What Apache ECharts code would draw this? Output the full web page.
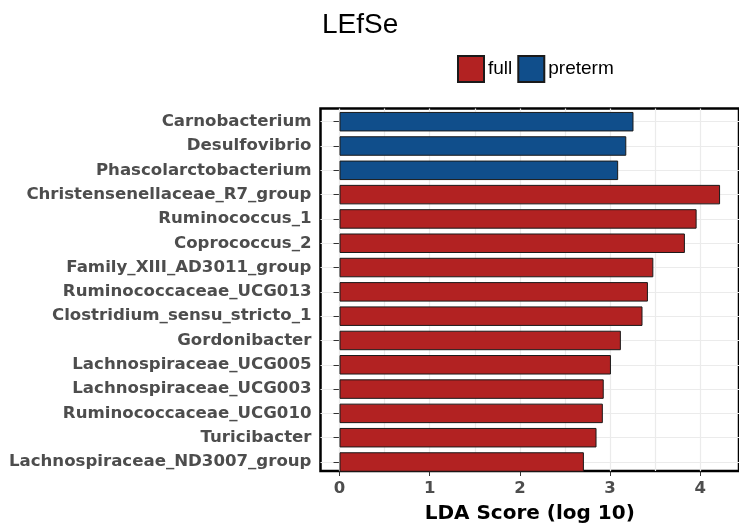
<!DOCTYPE html>
<html><head><meta charset="utf-8">
<script src="https://cdn.jsdelivr.net/npm/echarts@6/dist/echarts.min.js"></script>
<style>html,body{margin:0;padding:0;background:#fff}#c{width:739px;height:529px}</style>
</head><body><div id="c"></div>
<script>
const categories = ["Carnobacterium","Desulfovibrio","Phascolarctobacterium","Christensenellaceae_R7_group","Ruminococcus_1","Coprococcus_2","Family_XIII_AD3011_group","Ruminococcaceae_UCG013","Clostridium_sensu_stricto_1","Gordonibacter","Lachnospiraceae_UCG005","Lachnospiraceae_UCG003","Ruminococcaceae_UCG010","Turicibacter","Lachnospiraceae_ND3007_group"];
const groups = ["preterm","preterm","preterm","full","full","full","full","full","full","full","full","full","full","full","full"];
const ldaScores = [3.26,3.18,3.09,4.22,3.96,3.83,3.48,3.42,3.36,3.12,3.01,2.93,2.92,2.85,2.71];
const xTicks = [0,1,2,3,4];
const gridValues = [0,0.5,1,1.5,2,2.5,3,3.5,4];
const seriesNames = ["full","preterm"];
const colors = {full:"#B22222", preterm:"#104E8B"};

const FONT = "DejaVu Sans";
const FONT2 = "Liberation Sans";
const chart = echarts.init(document.getElementById('c'));
const xMin = -0.211, xMax = 4.43;
const panel = {left:320.5, right:-6, top:108.5, bottom:55.7};
const bandTop = 121.7, bandBottom = 529-462;

function seriesData(name){ return ldaScores.map((v,i)=> groups[i]===name ? v : null); }

chart.setOption({
  animation:false,
  title:{text:"LEfSe", left:317, top:6, textStyle:{fontFamily:FONT2, fontWeight:"normal", fontSize:28, color:"#000"}},
  legend:{data:seriesNames, left:457, top:55, padding:0, icon:"rect", itemWidth:26, itemHeight:26, itemGap:5,
    textStyle:{fontFamily:FONT2, fontSize:19, color:"#000", padding:[0,0,0,-1]}},
  grid:[
    {left:panel.left, right:panel.right, top:bandTop, bottom:bandBottom, containLabel:false},
    {left:panel.left, right:panel.right, top:panel.top, bottom:panel.bottom, show:true, borderColor:"#000", borderWidth:2.5, backgroundColor:"transparent"}
  ],
  xAxis:[
    {gridIndex:0, type:"value", min:xMin, max:xMax, show:false},
    {gridIndex:1, type:"value", min:xMin, max:xMax,
      axisLine:{show:false},
      axisTick:{show:true, length:5, lineStyle:{color:"#333"}, customValues:xTicks},
      axisLabel:{show:true, customValues:xTicks, formatter:v=>String(v), fontFamily:FONT, fontWeight:"bold", fontSize:16.5, color:"#4D4D4D", margin:9, showMinLabel:true, showMaxLabel:true},
      splitLine:{show:false},
      name:"LDA Score (log 10)", nameLocation:"middle", nameGap:33,
      nameTextStyle:{fontFamily:FONT, fontWeight:"bold", fontSize:20, color:"#000"}
    },
  ],
  yAxis:[
    {gridIndex:0, type:"category", data:categories, inverse:true, boundaryGap:false,
      axisLine:{show:false},
      axisTick:{show:true, length:6, lineStyle:{color:"#333"}},
      axisLabel:{fontFamily:FONT, fontWeight:"bold", fontSize:16.6, color:"#4D4D4D", margin:9},
      splitLine:{show:true, lineStyle:{color:"#EBEBEB", width:1.2}}
    },
    {gridIndex:1, type:"value", min:0, max:1, show:false}
  ],
  series:[
    {type:"line", xAxisIndex:1, yAxisIndex:1, data:[], silent:true, z:0,
      markLine:{silent:true, z:1, symbol:"none", label:{show:false}, animation:false,
        lineStyle:{color:"#EBEBEB", type:"solid", width:1.2},
        data:gridValues.map(v=>({xAxis:v}))}
    },
    ...seriesNames.map(name=>({
      name, type:"bar", stack:"s", xAxisIndex:0, yAxisIndex:0,
      data:seriesData(name), barWidth:19.5, clip:false, z:5,
      itemStyle:{color:colors[name], borderColor:"#1a1a1a", borderWidth:1}
    }))
  ]
});
</script></body></html>
